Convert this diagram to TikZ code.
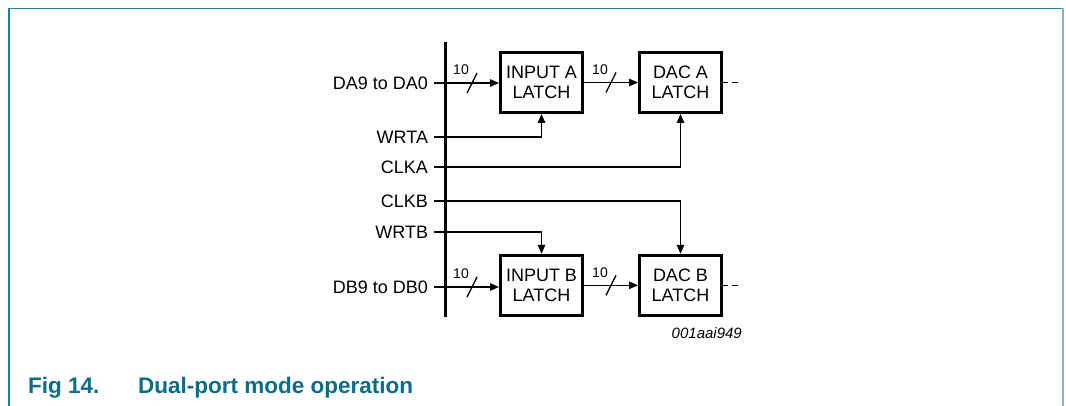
\documentclass[tikz,border=0pt]{standalone}
\usepackage{fontspec}
\setmainfont{Liberation Sans}
\usetikzlibrary{arrows.meta,calc}
\definecolor{frameA}{RGB}{27,133,153}
\definecolor{frameB}{RGB}{125,185,197}
\definecolor{captc}{RGB}{10,110,138}
\begin{document}
\begin{tikzpicture}[x=1pt,y=-1pt,
  lbl/.style={font=\fontsize{18}{20}\selectfont, anchor=east, inner xsep=6pt, inner ysep=0pt, outer sep=0pt},
  latch/.style={draw, line width=3pt, minimum width=82pt, minimum height=60pt, align=center,
                font=\fontsize{18}{20}\selectfont, inner sep=0pt, outer sep=1.5pt},
  conn/.style={line width=1.3pt},
  arr/.style={conn, -{Triangle[length=9pt,width=7.5pt]}},
  num/.style={font=\fontsize{14}{14}\selectfont, inner sep=0pt},
  bus/.style={line width=3pt}]
\useasboundingbox (0,0) rectangle (1066,406);
% frame
\draw[frameA, line width=1.5pt] (9,406) -- (9,8.5) -- (1062,8.5);
\draw[frameB, line width=2pt] (1062.5,8.5) -- (1062.5,406);
% bus
\draw[bus] (445,42) -- (445,317);
% latches
\node[latch] (ina) at (541.5,82.5) {INPUT A\\LATCH};
\node[latch] (daca) at (680.5,82.5) {DAC A\\LATCH};
\node[latch] (inb) at (541.5,285.3) {INPUT B\\LATCH};
\node[latch] (dacb) at (680.5,285.3) {DAC B\\LATCH};
% labels
\node[lbl] (da) at (434,83) {DA9 to DA0};
\node[lbl] (wrta) at (434,137) {WRTA};
\node[lbl] (clka) at (434,167) {CLKA};
\node[lbl] (clkb) at (434,201) {CLKB};
\node[lbl] (wrtb) at (434,232) {WRTB};
\node[lbl] (db) at (434,287) {DB9 to DB0};
% data paths
\draw[arr] (da.east) -- (da.east -| ina.west) coordinate[pos=0.585] (s1);
\draw[arr] (ina.east) -- (daca.west) coordinate[pos=0.5] (s2);
\draw[arr] (db.east) -- (db.east -| inb.west) coordinate[pos=0.585] (s3);
\draw[arr] (inb.east) -- (dacb.west) coordinate[pos=0.5] (s4);
\foreach \s in {s1,s2,s3,s4}{
  \draw[conn] ($(\s)+(-5,10)$) -- ($(\s)+(5,-10)$);
  \node[num] at ($(\s)+(-11,-13)$) {10};
}
% control lines
\draw[arr] (wrta.east) -| (ina.south);
\draw[arr] (clka.east) -| (daca.south);
\draw[arr] (clkb.east) -| (dacb.north);
\draw[arr] (wrtb.east) -| (inb.north);
% outputs
\coordinate (oa) at ($(daca.east)+(15,0)$);
\coordinate (ob) at ($(dacb.east)+(15,0)$);
\draw[conn, dash pattern=on 5pt off 4pt on 6pt off 4pt] (daca.east) -- (oa);
\draw[conn, dash pattern=on 5pt off 4pt on 6pt off 4pt] (dacb.east) -- (ob);
% id
\node[anchor=east, font=\itshape\fontsize{15}{15}\selectfont, inner sep=0pt] (fid) at (742,333) {001aai949};
% caption
\node[anchor=base west, font=\bfseries\fontsize{22.5}{22.5}\selectfont, text=captc, inner sep=0pt] (cap1) at (28,393) {Fig 14.};
\node[anchor=base west, font=\bfseries\fontsize{22.5}{22.5}\selectfont, text=captc, inner sep=0pt] (cap2) at (138,393) {Dual-port mode operation};
\end{tikzpicture}
\end{document}
